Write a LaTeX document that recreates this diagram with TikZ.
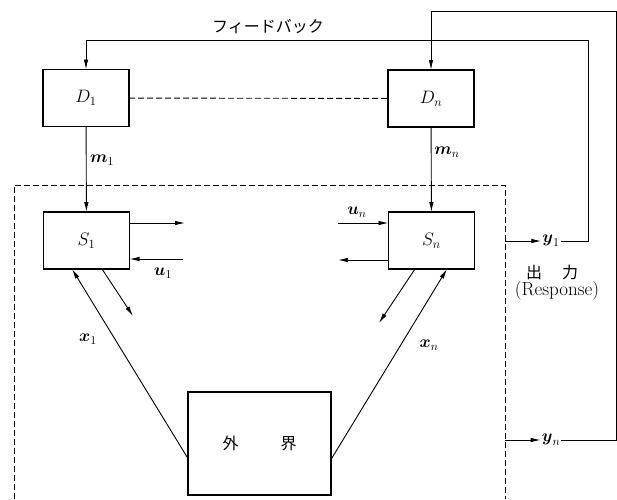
\RequirePackage{fix-cm}
\documentclass[tikz,border=0pt]{standalone}
\usepackage{amsmath}
\usepackage{fontspec}
\newfontfamily\jp{Noto Sans CJK JP}
\usetikzlibrary{arrows.meta,positioning,calc}

\begin{document}
\begin{tikzpicture}[
  x=1pt,y=-1pt,
  box/.style={draw=black, line width=1.8pt, minimum width=86pt, minimum height=57pt, inner sep=0pt, outer sep=0pt, font=\fontsize{18}{21}\selectfont},
  lbl/.style={font=\fontsize{17}{20}\selectfont, inner sep=1pt},
  jtxt/.style={font=\fontsize{16}{18}\selectfont\jp, inner sep=1pt},
  arrow/.style={-{Latex[length=10pt,width=4.5pt]}, line width=0.9pt, draw=black},
  frame/.style={line width=0.9pt, dash pattern=on 6pt off 3pt}
]
\useasboundingbox (0,0) rectangle (617,499);
% blocks
\node[box] (D1) at (86,98) {$D_1$};
\node[box] (Dn) at (431,98.5) {$D_n$};
\node[box] (S1) at (86.5,240.5) {$S_1$};
\node[box] (Sn) at (431.5,240.5) {$S_n$};
\node[box, minimum width=143pt, minimum height=103pt, font=\fontsize{16}{18}\selectfont\jp] (env) at (259.5,443.5) {外\hspace{42pt}界};
% system boundary
\draw[frame] (14,499) -- (14,185) -- (505,185) -- (505,499);
\draw[frame] (D1) -- (Dn);
% free ends
\coordinate (s1out) at (185,223);
\coordinate (u1in) at (183,259);
\coordinate (s1dn) at (133,316);
\coordinate (unin) at (338,223);
\coordinate (snout) at (338,260);
\coordinate (sndn) at (379,323);
\coordinate (y1src) at (505,241);
\coordinate (ynsrc) at (505,440);
\coordinate (fb1) at (588,241);
\coordinate (fbn) at (616,440);
% outputs
\node[lbl] (y1) at (551,241) {$\boldsymbol{y}_1$};
\node[lbl] (yn) at (551,440) {$\boldsymbol{y}_n$};
\node[jtxt] (out) at (552,272) {出\hspace{20pt}力};
\node[lbl, font=\fontsize{19}{22}\selectfont] (resp) at (557,291) {(Response)};
\node[jtxt] (fb) at (268,27) {フィードバック};
% signal labels
\node[lbl] (m1) at (102,160) {$\boldsymbol{m}_1$};
\node[lbl] (mn) at (447,152) {$\boldsymbol{m}_n$};
\node[lbl] (u1) at (163,273) {$\boldsymbol{u}_1$};
\node[lbl] (un) at (357,212) {$\boldsymbol{u}_n$};
\node[lbl] (x1) at (88,339) {$\boldsymbol{x}_1$};
\node[lbl] (xn) at (429,345) {$\boldsymbol{x}_n$};
% connectors
\draw[arrow] (D1) -- (S1);
\draw[arrow] (Dn) -- (Sn);
\draw[arrow] (s1out -| S1.east) -- (s1out);
\draw[arrow] (u1in) -- (u1in -| S1.east);
\draw[arrow] (unin) -- (unin -| Sn.west);
\draw[arrow] (snout -| Sn.west) -- (snout);
\draw[arrow] ([yshift=-15pt]env.west) -- ([xshift=-14.5pt]S1.south);
\draw[arrow] ([xshift=15.5pt]S1.south) -- (s1dn);
\draw[arrow] ([yshift=-16pt]env.east) -- ([xshift=15.5pt]Sn.south);
\draw[arrow] ([xshift=-16.5pt]Sn.south) -- (sndn);
\draw[arrow] (y1src) -- (y1.west);
\draw[arrow] (ynsrc) -- (yn.west);
\draw[arrow] (y1.east) -- (fb1) -- (588,40) -| (D1.north);
\draw[arrow] (yn.east) -- (fbn) -- (616,11) -| (Dn.north);
\end{tikzpicture}
\end{document}
